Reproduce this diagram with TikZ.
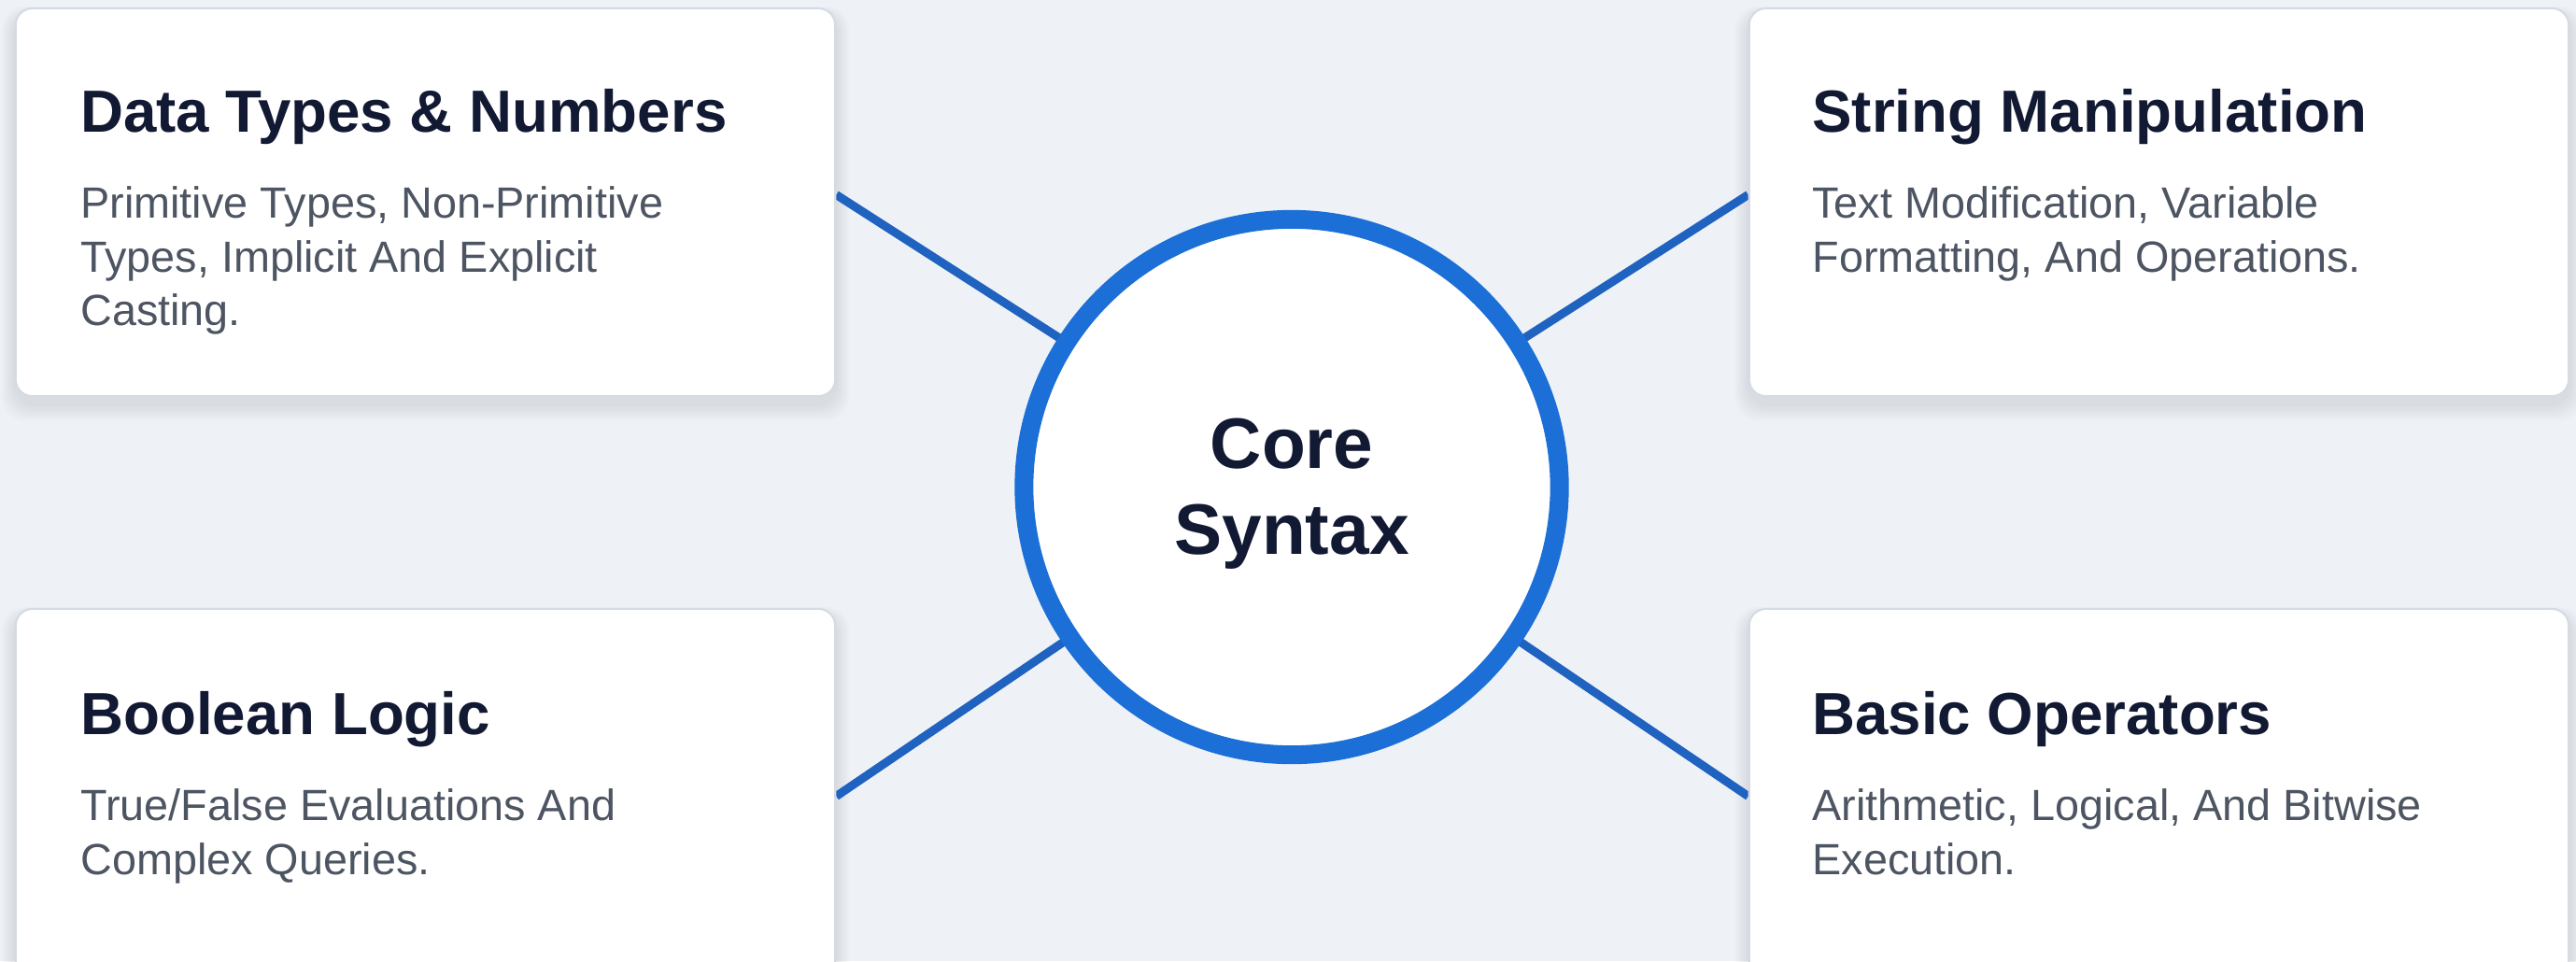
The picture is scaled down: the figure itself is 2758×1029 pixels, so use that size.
\documentclass[tikz,border=0pt]{standalone}
\usepackage{fontspec}
\setmainfont{Liberation Sans}
\usetikzlibrary{calc}
\definecolor{bgc}{HTML}{EEF2F7}
\definecolor{ringc}{HTML}{1B6FD6}
\definecolor{linkc}{HTML}{1F62BF}
\definecolor{ttlc}{HTML}{121933}
\definecolor{txtc}{HTML}{4D5562}
\definecolor{bordc}{HTML}{D5DBE3}
\pgfdeclarelayer{back}
\pgfsetlayers{back,main}
\begin{document}
\begin{tikzpicture}[x=0.01cm, y=-0.01cm,
  card/.style={draw=bordc, line width=0.6pt, fill=white, rounded corners=0.18cm,
    minimum width=8.77cm, minimum height=4.15cm, inner sep=0pt},
  ttl/.style={anchor=base west, inner sep=0pt, text=ttlc,
    font=\fontsize{18.1}{21}\selectfont\bfseries},
  bodytext/.style={anchor=north west, inner sep=0pt, text=txtc, align=left,
    font=\fontsize{13.3}{16.4}\selectfont},
  link/.style={draw=linkc, line width=0.09cm},
  hub/.style={circle, draw=ringc, line width=0.2cm, fill=white, inner sep=0pt,
    minimum size=5.73cm},
  hubtext/.style={text=ttlc, align=center, inner sep=0pt,
    font=\fontsize{21.8}{26}\selectfont\bfseries}
]
\useasboundingbox (0,0) rectangle (2758,1029);
\clip (0,0) rectangle (2758,1029);

% cards
\node[card] (tl) at (455.5,216.5) {};
\node[card] (tr) at (2311.5,216.5) {};
\node[card] (bl) at (455.5,859.5) {};
\node[card] (br) at (2311.5,859.5) {};

% central hub
\node[hub] (core) at (1383,521.5) {};
\node[hubtext] (coret) at ($(core.center)+(0,7)$) {Core\\Syntax};

\begin{pgfonlayer}{back}
  \fill[bgc] (0,0) rectangle (2758,1029);
  \foreach \n in {tl,tr,bl,br}{
    \foreach \k in {1,...,7}{
      \fill[black, opacity=0.012, rounded corners=0.25cm]
        ($(\n.north west)+(-2*\k,6-\k)$) rectangle ($(\n.south east)+(2*\k,8+2.5*\k)$);
    }
  }
  \draw[link] (core.center) -- ($(tl.east)+(0,-8)$);
  \draw[link] (core.center) -- ($(tr.west)+(0,-8)$);
  \draw[link] (core.center) -- ($(bl.east)+(0,-7)$);
  \draw[link] (core.center) -- ($(br.west)+(0,-7)$);
\end{pgfonlayer}

% texts
\node[ttl] (tlt) at ($(tl.north west)+(70,134)$) {Data Types \& Numbers};
\node[bodytext] (tlb) at ($(tl.north west)+(70,191)$) {Primitive Types, Non-Primitive\\Types, Implicit And Explicit\\Casting.};

\node[ttl] (trt) at ($(tr.north west)+(68,134)$) {String Manipulation};
\node[bodytext] (trb) at ($(tr.north west)+(68,191)$) {Text Modification, Variable\\Formatting, And Operations.};

\node[ttl] (blt) at ($(bl.north west)+(70,136)$) {Boolean Logic};
\node[bodytext] (blb) at ($(bl.north west)+(70,193)$) {True/False Evaluations And\\Complex Queries.};

\node[ttl] (brt) at ($(br.north west)+(68,136)$) {Basic Operators};
\node[bodytext] (brb) at ($(br.north west)+(68,193)$) {Arithmetic, Logical, And Bitwise\\Execution.};
\end{tikzpicture}
\end{document}
